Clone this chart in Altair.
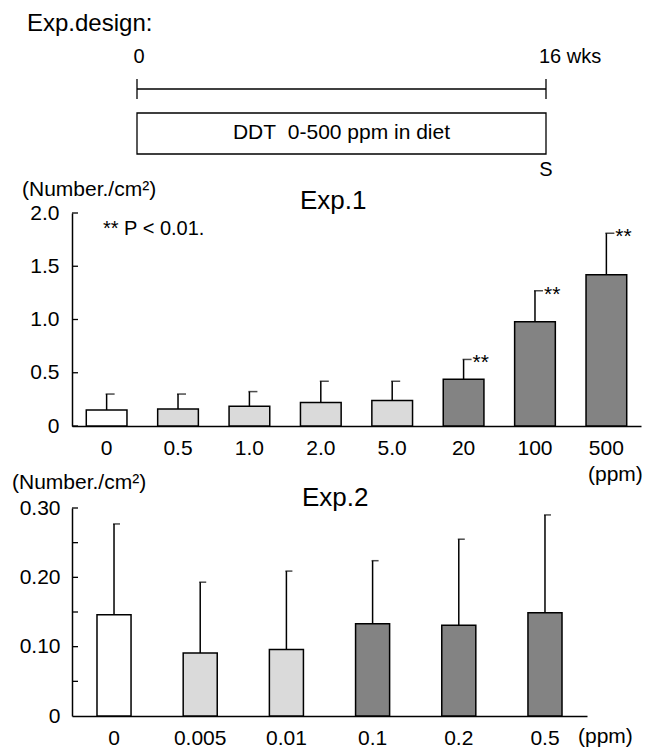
import altair as alt
import pandas as pd

FONT = "Liberation Sans"

# ---------------- data ----------------
design_weeks = [0, 16]
design_labels = ["0", "16 wks"]
design_title = "Exp.design:"
diet_text = "DDT\u00a0\u00a00-500 ppm in diet"
sacrifice_label = "S"

unit_label = "(Number./cm²)"
dose_unit = "(ppm)"

exp1_title = "Exp.1"
exp1_note = "** P < 0.01."
exp1_doses = ["0", "0.5", "1.0", "2.0", "5.0", "20", "100", "500"]
exp1_mean = [0.15, 0.16, 0.185, 0.22, 0.24, 0.44, 0.98, 1.42]
exp1_sd = [0.15, 0.14, 0.138, 0.20, 0.18, 0.185, 0.29, 0.39]
exp1_group = ["control", "low", "low", "low", "low", "high", "high", "high"]
exp1_sig = ["", "", "", "", "", "**", "**", "**"]
exp1_yticks = [0, 0.5, 1.0, 1.5, 2.0]

exp2_title = "Exp.2"
exp2_doses = ["0", "0.005", "0.01", "0.1", "0.2", "0.5"]
exp2_mean = [0.146, 0.091, 0.096, 0.133, 0.131, 0.149]
exp2_sd = [0.131, 0.102, 0.113, 0.091, 0.124, 0.141]
exp2_group = ["control", "low", "low", "high", "high", "high"]
exp2_yticks = [0.05, 0.10, 0.15, 0.20, 0.25, 0.30]
exp2_ylabels = [0, 0.10, 0.20, 0.30]

group_domain = ["control", "low", "high"]
group_colors = ["#ffffff", "#dadada", "#838383"]

# ---------------- header ----------------
W1, H0 = 569, 131
wk_scale = alt.Scale(domain=[0, 16], range=[65, 474])
span_df = pd.DataFrame({"start": [design_weeks[0]], "end": [design_weeks[1]], "text": [diet_text]})
wk_df = pd.DataFrame({"week": design_weeks, "label": design_labels})

h_line = alt.Chart(span_df).mark_rule(color="black", strokeWidth=1.3).encode(
    x=alt.X("start:Q", scale=wk_scale, axis=None), x2="end:Q", y=alt.value(89))
h_ends = alt.Chart(wk_df).mark_rule(color="black", strokeWidth=1.3).encode(
    x=alt.X("week:Q", scale=wk_scale, axis=None), y=alt.value(79), y2=alt.value(99))
h_box = alt.Chart(span_df).mark_rect(fill="white", stroke="black", strokeWidth=1.3).encode(
    x=alt.X("start:Q", scale=wk_scale, axis=None), x2="end:Q", y=alt.value(113), y2=alt.value(154))
h_boxtext = alt.Chart(span_df).transform_calculate(mid="(datum.start + datum.end) / 2").mark_text(
    fontSize=21, baseline="middle", align="center", color="black").encode(
    x=alt.X("mid:Q", scale=wk_scale, axis=None), y=alt.value(133), text="text:N")
h_zero = alt.Chart(wk_df).transform_filter("datum.week == 0").mark_text(
    fontSize=20, baseline="middle", align="center", dx=2, color="black").encode(
    x=alt.X("week:Q", scale=wk_scale, axis=None), y=alt.value(57), text="label:N")
h_end = alt.Chart(wk_df).transform_filter("datum.week != 0").mark_text(
    fontSize=20, baseline="middle", align="left", dx=-7, color="black").encode(
    x=alt.X("week:Q", scale=wk_scale, axis=None), y=alt.value(57), text="label:N")
h_s = alt.Chart(pd.DataFrame({"week": [design_weeks[1]], "label": [sacrifice_label]})).mark_text(
    fontSize=20, baseline="middle", align="center", color="black").encode(
    x=alt.X("week:Q", scale=wk_scale, axis=None), y=alt.value(170), text="label:N")
h_title = alt.Chart(pd.DataFrame({"label": [design_title]})).mark_text(
    fontSize=24, baseline="middle", align="left", color="black").encode(
    x=alt.value(-45), y=alt.value(24), text="label:N")

header = alt.layer(h_line, h_ends, h_box, h_boxtext, h_zero, h_end, h_s, h_title).properties(
    width=W1, height=H0)


# ---------------- bar panels ----------------
def panel(doses, mean, sd, group, sig, ymax, yvals, label_fmt, minor, width, height,
          p_in, p_out, cap_size, title, title_x, title_y, unit_x, unit_y, ppm_x, ppm_y,
          label_pad_y, label_pad_x, extra=None):
    df = pd.DataFrame({"dose": doses, "mean": mean, "sd": sd, "group": group, "sig": sig})
    df["upper"] = df["mean"] + df["sd"]
    yscale = alt.Scale(domain=[0, ymax], nice=False, zero=True)
    x = alt.X("dose:N", sort=doses, title=None,
              scale=alt.Scale(paddingInner=p_in, paddingOuter=p_out),
              axis=alt.Axis(labelAngle=0, ticks=False, tickSize=0, domainColor="black",
                            domainWidth=1.5, labelFontSize=21, labelColor="black",
                            labelPadding=label_pad_x, labelFont=FONT))
    base = alt.Chart(df)
    bars = base.mark_bar(stroke="black", strokeWidth=1.5).encode(
        x=x,
        y=alt.Y("mean:Q", scale=yscale, title=None,
                axis=alt.Axis(values=yvals, labelExpr=label_fmt, ticks=False, tickSize=0,
                              grid=False, domainColor="black", domainWidth=1.5,
                              labelFontSize=21, labelColor="black", labelPadding=label_pad_y,
                              labelFont=FONT)),
        fill=alt.Fill("group:N", scale=alt.Scale(domain=group_domain, range=group_colors),
                      legend=None))
    err = base.mark_rule(color="black", strokeWidth=1.5).encode(
        x=x, y=alt.Y("mean:Q", scale=yscale, title=None), y2="upper:Q")
    cap = base.mark_tick(orient="horizontal", size=cap_size, thickness=1.5,
                         xOffset=cap_size / 2 - 1, color="black").encode(
        x=x, y=alt.Y("upper:Q", scale=yscale, title=None))
    minor_ticks = alt.Chart(pd.DataFrame({"v": minor})).mark_rule(
        color="black", strokeWidth=1.3).encode(
        x=alt.value(0), x2=alt.value(6), y=alt.Y("v:Q", scale=yscale, title=None))
    layers = [err, bars, cap, minor_ticks]
    if any(sig):
        layers.append(base.transform_filter("datum.sig != ''").mark_text(
            align="left", baseline="middle", dx=9, dy=4, fontSize=21, color="black").encode(
            x=x, y=alt.Y("upper:Q", scale=yscale, title=None), text="sig:N"))
    layers.append(alt.Chart(pd.DataFrame({"label": [title]})).mark_text(
        fontSize=26, align="left", baseline="middle", color="black").encode(
        x=alt.value(title_x), y=alt.value(title_y), text="label:N"))
    layers.append(alt.Chart(pd.DataFrame({"label": [unit_label]})).mark_text(
        fontSize=21, align="left", baseline="middle", color="black").encode(
        x=alt.value(unit_x), y=alt.value(unit_y), text="label:N"))
    layers.append(alt.Chart(pd.DataFrame({"label": [dose_unit]})).mark_text(
        fontSize=21, align="left", baseline="middle", color="black").encode(
        x=alt.value(ppm_x), y=alt.value(ppm_y), text="label:N"))
    if extra is not None:
        layers.append(extra)
    return alt.layer(*layers).properties(width=width, height=height)


note = alt.Chart(pd.DataFrame({"label": [exp1_note]})).mark_text(
    fontSize=20, align="left", baseline="middle", color="black").encode(
    x=alt.value(31), y=alt.value(16), text="label:N")

exp1 = panel(exp1_doses, exp1_mean, exp1_sd, exp1_group, exp1_sig, 2.0, exp1_yticks,
             "datum.value == 0 ? '0' : format(datum.value, '.1f')", exp1_yticks,
             W1, 213, 0.43, 0.2, 9, exp1_title, 228, -12, -50, -23, 516, 262, 13, 11,
             extra=note)

exp2 = panel(exp2_doses, exp2_mean, exp2_sd, exp2_group, [""] * len(exp2_doses), 0.30,
             exp2_ylabels, "datum.value == 0 ? '0' : format(datum.value, '.2f')", exp2_yticks,
             515, 208, 0.605, 0.29, 7, exp2_title, 230, -10, -60, -25, 506, 229, 12, 11)

chart = alt.vconcat(header, exp1, exp2, spacing=82, bounds="flush").properties(
    padding={"left": 12, "top": 0, "right": 0, "bottom": 0}
).configure(font=FONT).configure_view(stroke=None)

chart.save("out.html", embed_options={"renderer": "svg", "actions": False})
